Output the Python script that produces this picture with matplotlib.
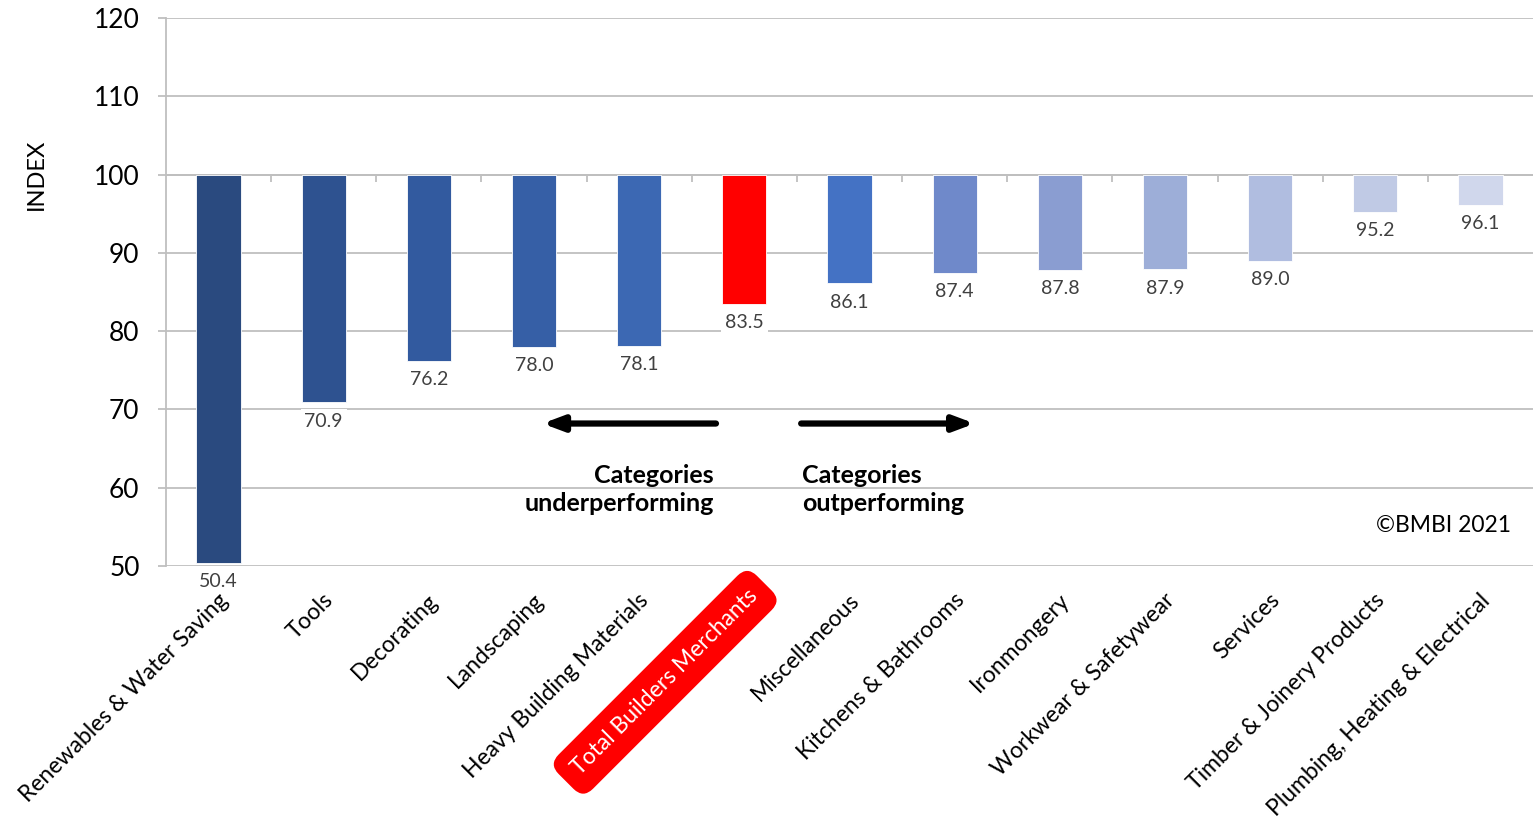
import numpy as np
import matplotlib.pyplot as plt

plt.rcParams['font.family'] = ['Lato', 'DejaVu Sans']

# index values by product category (100 = baseline)
categories = [
    'Renewables & Water Saving', 'Tools', 'Decorating', 'Landscaping',
    'Heavy Building Materials', 'Total Builders Merchants', 'Miscellaneous',
    'Kitchens & Bathrooms', 'Ironmongery', 'Workwear & Safetywear',
    'Services', 'Timber & Joinery Products', 'Plumbing, Heating & Electrical',
]
index_values = [50.4, 70.9, 76.2, 78.0, 78.1, 83.5, 86.1, 87.4, 87.8, 87.9, 89.0, 95.2, 96.1]
bar_colors = [
    '#2a4a7f', '#2e5290', '#325a9f', '#365fa6', '#3c68b3', '#ff0000', '#4472c4',
    '#6f89ca', '#8a9dd1', '#9daed8', '#b0bde0', '#c0cae5', '#d0d7ec',
]
total_name = 'Total Builders Merchants'
baseline = 100
y_ticks = [50, 60, 70, 80, 90, 100, 110, 120]

grid_col = '#bfbfbf'
text_col = '#404040'

fig = plt.figure(figsize=(15.34, 8.17), dpi=100)
ax = fig.add_axes([0.1082, 0.3072, 0.8912, 0.6708])

x = np.arange(len(categories))
heights = [v - baseline for v in index_values]
ax.bar(x, heights, bottom=baseline, width=0.42, color=bar_colors,
       edgecolor='white', linewidth=0.6, zorder=3)

ax.set_xlim(-0.5, len(categories) - 0.5)
ax.set_ylim(50, 120)
ax.set_yticks(y_ticks)
ax.yaxis.grid(True, color=grid_col, linewidth=1.3, zorder=0)
ax.set_xticks([])
ax.tick_params(axis='y', labelsize=19, length=6, color=grid_col, width=1.3, pad=13,
               labelcolor='black')
for side in ['top', 'right', 'bottom']:
    ax.spines[side].set_visible(False)
ax.spines['left'].set_color(grid_col)
ax.spines['left'].set_linewidth(1.3)
ax.set_ylabel('INDEX', fontsize=17)
ax.yaxis.set_label_coords(-0.087, (baseline - 50) / 70)

# horizontal category axis crossing at 100, with small tick marks
ax.axhline(baseline, color=grid_col, linewidth=1.3, zorder=2)
ax.vlines(x[:-1] + 0.5, baseline - 0.9, baseline, color=grid_col, linewidth=1.3, zorder=2)

# value labels under each bar
for xi, v in zip(x, index_values):
    ax.annotate(f'{v:.1f}', xy=(xi, v), xytext=(0, -13.5), textcoords='offset points',
                ha='center', va='center', fontsize=14, color=text_col, zorder=5,
                bbox=dict(boxstyle='square,pad=0.2', fc='white', ec='none'))

# rotated category labels below the plot
for xi, name in zip(x, categories):
    if name == total_name:
        ax.annotate(name, xy=(xi, 0), xycoords=('data', 'axes fraction'),
                    xytext=(2, -14), textcoords='offset points',
                    ha='right', va='top', rotation=45, rotation_mode='anchor',
                    fontsize=16.5, color='white',
                    bbox=dict(boxstyle='round,pad=0.6,rounding_size=0.6', fc='#ff0000', ec='none'))
    else:
        ax.annotate(name, xy=(xi, 0), xycoords=('data', 'axes fraction'),
                    xytext=(-1, -17), textcoords='offset points',
                    ha='right', va='top', rotation=45, rotation_mode='anchor',
                    fontsize=16.5, color='black')

# performance arrows and notes
arrow_style = dict(arrowstyle='-|>,head_length=1.2,head_width=0.45', color='black',
                   linewidth=4.5, shrinkA=0, shrinkB=0)
ax.annotate('', xy=(3.08, 68.2), xytext=(4.73, 68.2), arrowprops=arrow_style)
ax.annotate('', xy=(7.19, 68.2), xytext=(5.54, 68.2), arrowprops=arrow_style)
ax.text(4.71, 59.8, 'Categories\nunderperforming', ha='right', va='center',
        fontsize=18, fontweight='bold', linespacing=1.25)
ax.text(5.55, 59.8, 'Categories\noutperforming', ha='left', va='center',
        fontsize=18, fontweight='bold', linespacing=1.25)
ax.text(12.29, 55.2, '©BMBI 2021', ha='right', va='center', fontsize=16.5)

fig.savefig('out.png', dpi=100)
